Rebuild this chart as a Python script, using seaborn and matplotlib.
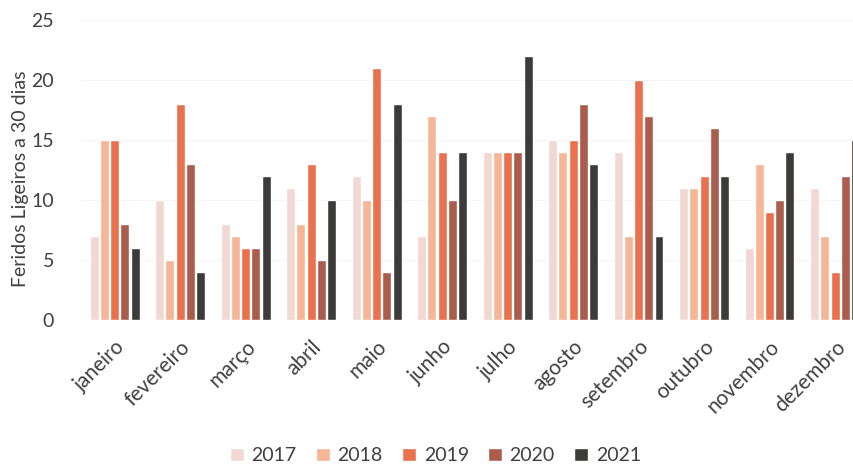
import numpy as np
import pandas as pd
import matplotlib
matplotlib.use("Agg")
import matplotlib.pyplot as plt
import seaborn as sns

meses = ["janeiro", "fevereiro", "março", "abril", "maio", "junho",
         "julho", "agosto", "setembro", "outubro", "novembro", "dezembro"]
anos = ["2017", "2018", "2019", "2020", "2021"]

v2017 = [7, 10, 8, 11, 12, 7, 14, 15, 14, 11, 6, 11]
v2018 = [15, 5, 7, 8, 10, 17, 14, 14, 7, 11, 13, 7]
v2019 = [15, 18, 6, 13, 21, 14, 14, 15, 20, 12, 9, 4]
v2020 = [8, 13, 6, 5, 4, 10, 14, 18, 17, 16, 10, 12]
v2021 = [6, 4, 12, 10, 18, 14, 22, 13, 7, 12, 14, 15]

cores = ["#f2d8d2", "#f4b697", "#e9714e", "#aa5d4d", "#3d3a3a"]

valores = [v2017, v2018, v2019, v2020, v2021]
df = pd.DataFrame({
    "mes": np.tile(meses, len(anos)),
    "ano": np.repeat(anos, len(meses)),
    "feridos": np.concatenate(valores),
})

sns.set_theme(style="white")
plt.rcParams["font.family"] = ["Lato", "DejaVu Sans"]

fig = plt.figure(figsize=(8.54, 4.65), dpi=100)
ax = fig.add_axes([0.096, 0.312, 0.904, 0.645])

sns.barplot(data=df, x="mes", y="feridos", hue="ano", order=meses,
            hue_order=anos, palette=cores, width=0.78, gap=0.12,
            saturation=1, ax=ax, legend=True)

ax.set_ylim(0, 25)
ax.set_yticks([0, 5, 10, 15, 20, 25])
ax.set_xlim(-0.5, 11.29)
ax.yaxis.grid(True, color="#f4f4f4", linewidth=0.8)
ax.set_axisbelow(True)
for s in ax.spines.values():
    s.set_visible(False)

ax.set_xlabel("")
ax.set_ylabel("Feridos Ligeiros a 30 dias", fontsize=14, color="#404040")
ax.yaxis.set_label_coords(-0.068, 0.47)
ax.tick_params(axis="y", labelsize=14, labelcolor="#404040", length=0, pad=20)
ax.tick_params(axis="x", labelsize=15, labelcolor="#404040", length=0, pad=12)
for lbl in ax.get_xticklabels():
    lbl.set_rotation(45)
    lbl.set_ha("right")
    lbl.set_rotation_mode("anchor")

handles, labels = ax.get_legend_handles_labels()
ax.legend_.remove()
fig.legend(handles, labels, loc="center", bbox_to_anchor=(0.51, 0.02),
           ncol=5, frameon=False, fontsize=14, handlelength=0.7,
           handleheight=0.7, handletextpad=0.4, columnspacing=1.0,
           labelcolor="#404040")

fig.savefig("out.png", dpi=100)
